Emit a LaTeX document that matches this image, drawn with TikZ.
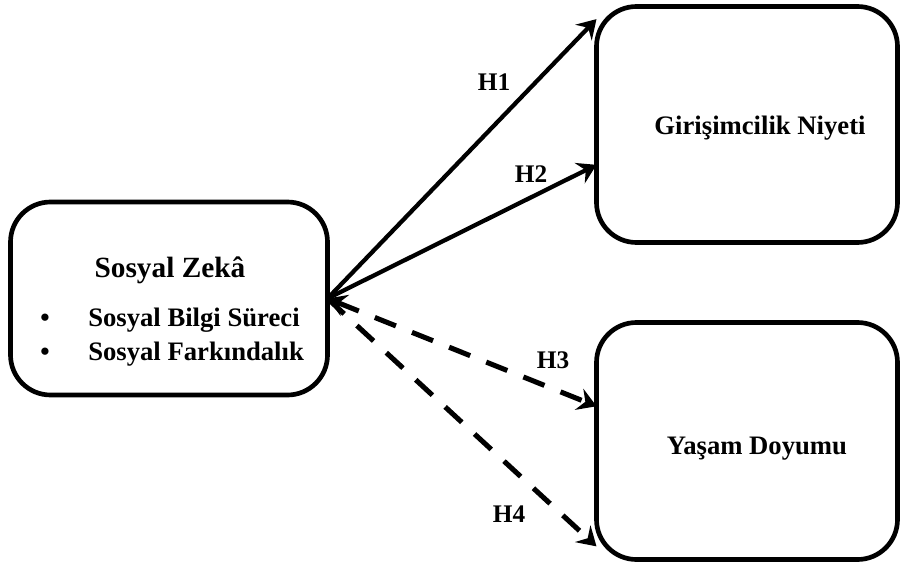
\documentclass[tikz,border=0pt]{standalone}
\usepackage{fontspec}
\setmainfont{Liberation Serif}
\usepackage{tikz}
\usetikzlibrary{arrows.meta}
\tikzstyle{boxV}=[rectangle, draw, rounded corners=30pt, line width=3.5pt, inner sep=0pt, outer sep=0pt]
\tikzstyle{edge}=[line width=3.2pt, -{Stealth[length=14pt, width=17pt, inset=5pt]}]
\tikzstyle{edgeD}=[edge, line width=3.8pt, dash pattern=on 17pt off 13pt]
\tikzstyle{txt}=[font=\fontsize{20}{24}\selectfont\bfseries, inner sep=0pt]
\tikzstyle{lab}=[font=\fontsize{19}{23}\selectfont\bfseries, inner sep=0pt]

\begin{document}
\begin{tikzpicture}[x=0.75pt, y=-0.75pt]
      \useasboundingbox (0,0) rectangle (904,567);
      \node(zeka) [boxV, minimum width=317*0.75pt, minimum height=193*0.75pt] at (169, 298.5){};
      \node(giris) [boxV, minimum width=301*0.75pt, minimum height=236*0.75pt] at (747, 124.5){};
      \node(doyum) [boxV, minimum width=301*0.75pt, minimum height=237*0.75pt] at (747, 441){};
      % text in the boxes
      \node(title) [txt, font=\fontsize{22}{26}\selectfont\bfseries] at (170, 270){Sosyal Zekâ};
      \node(b1) [txt] at (45, 320){•};
      \node(b2) [txt] at (45, 354){•};
      \node(item1) [txt, anchor=west] at (88, 320){Sosyal Bilgi Süreci};
      \node(item2) [txt, anchor=west] at (88, 354){Sosyal Farkındalık};
      \node(gtext) [txt] at (760, 128){Girişimcilik Niyeti};
      \node(ytext) [txt] at (757, 449){Yaşam Doyumu};
      % hypotheses
      \node(h1) [lab] at (494, 82){H1};
      \node(h2) [lab] at (531, 174){H2};
      \node(h3) [lab] at (553, 360){H3};
      \node(h4) [lab] at (509, 514){H4};
      \draw[edge] (zeka.east) to (giris.145);
      \draw[edge] (zeka.east) to (giris.195);
      \draw[edgeD, {Stealth[length=14pt, width=17pt, inset=5pt]}-{Stealth[length=14pt, width=17pt, inset=5pt]}] (zeka.east) to (doyum.167);
      \draw[edgeD] (zeka.east) to (doyum.215);
    \end{tikzpicture}
\end{document}
